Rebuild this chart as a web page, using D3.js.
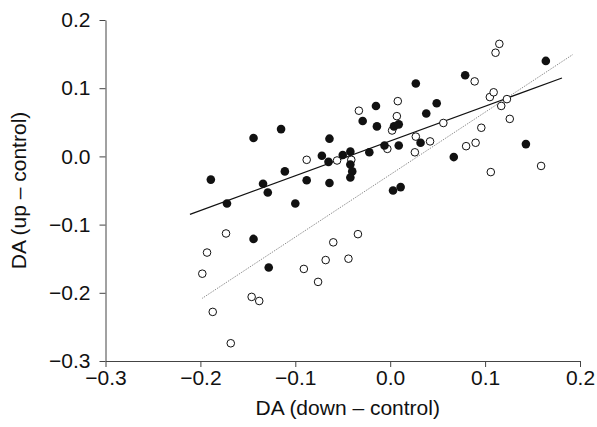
<!DOCTYPE html>
<html>
<head>
<meta charset="utf-8">
<script src="https://cdn.jsdelivr.net/npm/d3@7"></script>
<style>
  html, body { margin: 0; padding: 0; background: #fff; }
  svg { display: block; }
  text { font-family: "Liberation Sans", Arial, Helvetica, sans-serif; }
</style>
</head>
<body>
<svg id="chart" width="597" height="427"></svg>
<script>
// DA (down – control) vs DA (up – control)
const filledDown = [-0.189,-0.172,-0.144,-0.144,-0.134,-0.129,-0.128,-0.115,-0.111,-0.100,-0.088,-0.072,-0.065,-0.064,-0.064,-0.050,-0.042,-0.042,-0.040,-0.042,-0.029,-0.022,-0.015,-0.014,-0.006,0.003,0.004,0.009,0.009,0.011,0.027,0.032,0.038,0.049,0.067,0.079,0.143,0.164];
const filledUp   = [-0.034,-0.069,0.027,-0.121,-0.040,-0.053,-0.163,0.040,-0.022,-0.069,-0.035,0.001,-0.008,0.026,-0.039,0.002,0.007,-0.012,-0.022,-0.031,0.052,0.006,0.074,0.044,0.016,-0.050,0.044,0.047,0.016,-0.045,0.107,0.020,0.063,0.078,-0.001,0.119,0.018,0.140];

const openDown = [-0.198,-0.193,-0.187,-0.173,-0.168,-0.146,-0.138,-0.091,-0.088,-0.076,-0.068,-0.060,-0.056,-0.044,-0.041,-0.034,-0.033,-0.003,0.002,0.007,0.008,0.026,0.027,0.042,0.056,0.080,0.089,0.090,0.096,0.105,0.106,0.109,0.111,0.115,0.117,0.123,0.126,0.159];
const openUp   = [-0.172,-0.141,-0.228,-0.113,-0.274,-0.206,-0.212,-0.165,-0.005,-0.184,-0.152,-0.126,-0.006,-0.150,-0.005,-0.114,0.067,0.011,0.038,0.059,0.081,0.006,0.029,0.022,0.049,0.015,0.110,0.020,0.042,0.087,-0.023,0.094,0.152,0.165,0.074,0.084,0.055,-0.014];

// fitted lines (endpoints in data units)
const solidFitX = [-0.211, 0.181];
const solidFitY = [-0.085, 0.115];
const dottedFitX = [-0.198, 0.192];
const dottedFitY = [-0.208, 0.149];

const xTicks = [-0.3, -0.2, -0.1, 0.0, 0.1, 0.2];
const yTicks = [-0.3, -0.2, -0.1, 0.0, 0.1, 0.2];
const xLabel = "DA (down – control)";
const yLabel = "DA (up – control)";

const svg = d3.select("#chart");
const x = d3.scaleLinear().domain([-0.3, 0.2]).range([105.5, 580]);
const y = d3.scaleLinear().domain([-0.3, 0.2]).range([361, 20]);
const fmt = d3.format(".1f");
const axisColor = "#444";
const fontSize = 21;
const titleSize = 21;

const gx = svg.append("g").attr("transform", `translate(0,${y(-0.3)})`)
  .call(d3.axisBottom(x).tickValues(xTicks).tickFormat(fmt).tickSize(6).tickPadding(3).tickSizeOuter(0));
const gy = svg.append("g").attr("transform", `translate(${x(-0.3)},0)`)
  .call(d3.axisLeft(y).tickValues(yTicks).tickFormat(fmt).tickSize(6).tickPadding(9).tickSizeOuter(0));
[gx, gy].forEach(g => {
  g.selectAll("path.domain").attr("stroke", axisColor).attr("stroke-width", 1);
  g.selectAll(".tick line").attr("stroke", axisColor).attr("stroke-width", 1);
  g.selectAll(".tick text").attr("fill", "#111").style("font-size", fontSize + "px")
    .style("font-family", '"Liberation Sans", Arial, Helvetica, sans-serif');
});

svg.append("text")
  .attr("x", (x(-0.3) + x(0.2)) / 2 + 5)
  .attr("y", 415)
  .attr("text-anchor", "middle")
  .attr("fill", "#111")
  .style("font-size", titleSize + "px")
  .text(xLabel);

svg.append("text")
  .attr("transform", `translate(26,${(y(-0.3) + y(0.2)) / 2}) rotate(-90)`)
  .attr("text-anchor", "middle")
  .attr("fill", "#111")
  .style("font-size", titleSize + "px")
  .text(yLabel);

const line = d3.line().x(d => x(d[0])).y(d => y(d[1]));

svg.append("path")
  .datum(dottedFitX.map((v, i) => [v, dottedFitY[i]]))
  .attr("d", line)
  .attr("fill", "none")
  .attr("stroke", "#777")
  .attr("stroke-width", 1)
  .attr("stroke-dasharray", "1,1.2");

svg.append("path")
  .datum(solidFitX.map((v, i) => [v, solidFitY[i]]))
  .attr("d", line)
  .attr("fill", "none")
  .attr("stroke", "#111")
  .attr("stroke-width", 1.2);

const openPts = openDown.map((v, i) => [v, openUp[i]]);
const filledPts = filledDown.map((v, i) => [v, filledUp[i]]);

svg.append("g").selectAll("circle.open").data(openPts).join("circle")
  .attr("class", "open")
  .attr("cx", d => x(d[0])).attr("cy", d => y(d[1])).attr("r", 3.8)
  .attr("fill", "#fff").attr("stroke", "#111").attr("stroke-width", 1);

svg.append("g").selectAll("circle.filled").data(filledPts).join("circle")
  .attr("class", "filled")
  .attr("cx", d => x(d[0])).attr("cy", d => y(d[1])).attr("r", 4.3)
  .attr("fill", "#111");
</script>
</body>
</html>
